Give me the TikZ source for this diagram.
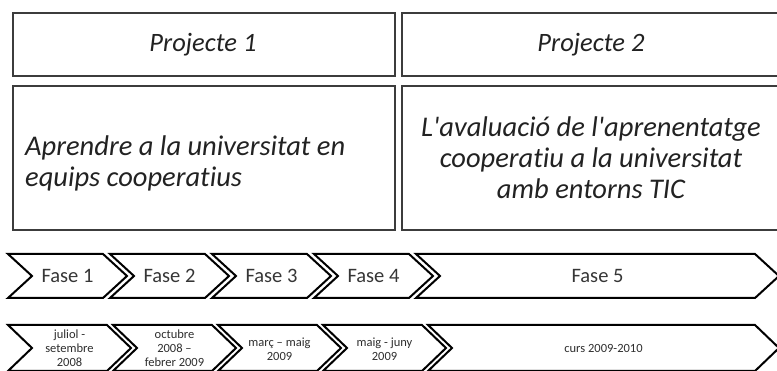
\documentclass[tikz,border=0pt]{standalone}
\usepackage{fontspec}
\setmainfont{Carlito}[Ligatures={TeXOff,NoCommon}]
\definecolor{boxline}{HTML}{3C3C3C}
\definecolor{txt}{HTML}{222222}
\definecolor{fasetxt}{HTML}{363636}
\definecolor{datetxt}{HTML}{2E2E2E}
\tikzset{
  projbox/.style={draw=boxline, line width=2.4pt},
  chev/.style={draw=black, line width=2pt, line join=miter, fill=white},
  projtitle/.style={font=\fontsize{26.5}{31}\selectfont\itshape, text=txt, inner sep=0pt},
  projtext/.style={font=\fontsize{28.5}{31}\selectfont\itshape, text=txt, inner sep=0pt},
  fasetext/.style={font=\fontsize{20.5}{24}\selectfont, text=fasetxt, inner sep=0pt},
  datetext/.style={font=\fontsize{12.5}{14}\selectfont, text=datetxt, inner sep=0pt, align=center}
}
\begin{document}
\begin{tikzpicture}[x=1pt,y=-1pt]
\useasboundingbox (0,0) rectangle (777,371);
\clip (0,0) rectangle (777,371);
\fill[white] (0,0) rectangle (777,371);
% project boxes
\draw[projbox] (13,13) rectangle (395,76);
\draw[projbox] (402,13) rectangle (780,76);
\draw[projbox] (13,86) rectangle (395,230);
\draw[projbox] (402,86) rectangle (780,230);
\node[projtitle] (p1) at (203,45) {Projecte 1};
\node[projtitle] (p2) at (591,45) {Projecte 2};
\node[projtext, align=left, anchor=west] (t1) at (25,163) {Aprendre a la universitat en\\equips cooperatius};
\node[projtext, align=center] (t2) at (591,158) {L'avaluació de l'aprenentatge\\cooperatiu a la universitat\\amb entorns TIC};
% row 1 chevrons
\foreach \L/\R/\name/\lab in {8/103/f1/Fase 1, 110/205/f2/Fase 2, 212/307/f3/Fase 3, 314/409/f4/Fase 4, 416/755/f5/Fase 5}{
  \draw[chev] (\L,254) -- (\R,254) -- (\R+24,276) -- (\R,298) -- (\L,298) -- (\L+24,276) -- cycle;
  \node[fasetext] (\name) at ({(\L+\R)/2+12},276) {\lab};
}
% row 2 chevrons
\foreach \L/\R/\name in {8/107/d1, 113/212/d2, 218/317/d3, 323/422/d4, 428/755/d5}{
  \draw[chev] (\L,325) -- (\R,325) -- (\R+24,348) -- (\R,371) -- (\L,371) -- (\L+24,348) -- cycle;
  \coordinate (\name) at ({(\L+\R)/2+12},348);
}
\node[datetext] (dt1) at (d1) {juliol -\\setembre\\2008};
\node[datetext] (dt2) at (d2) {octubre\\2008 –\\febrer 2009};
\node[datetext] (dt3) at ([yshift=-1pt]d3) {març – maig\\2009};
\node[datetext] (dt4) at ([yshift=-1pt]d4) {maig - juny\\2009};
\node[datetext] (dt5) at (d5) {curs 2009-2010};
\end{tikzpicture}
\end{document}
